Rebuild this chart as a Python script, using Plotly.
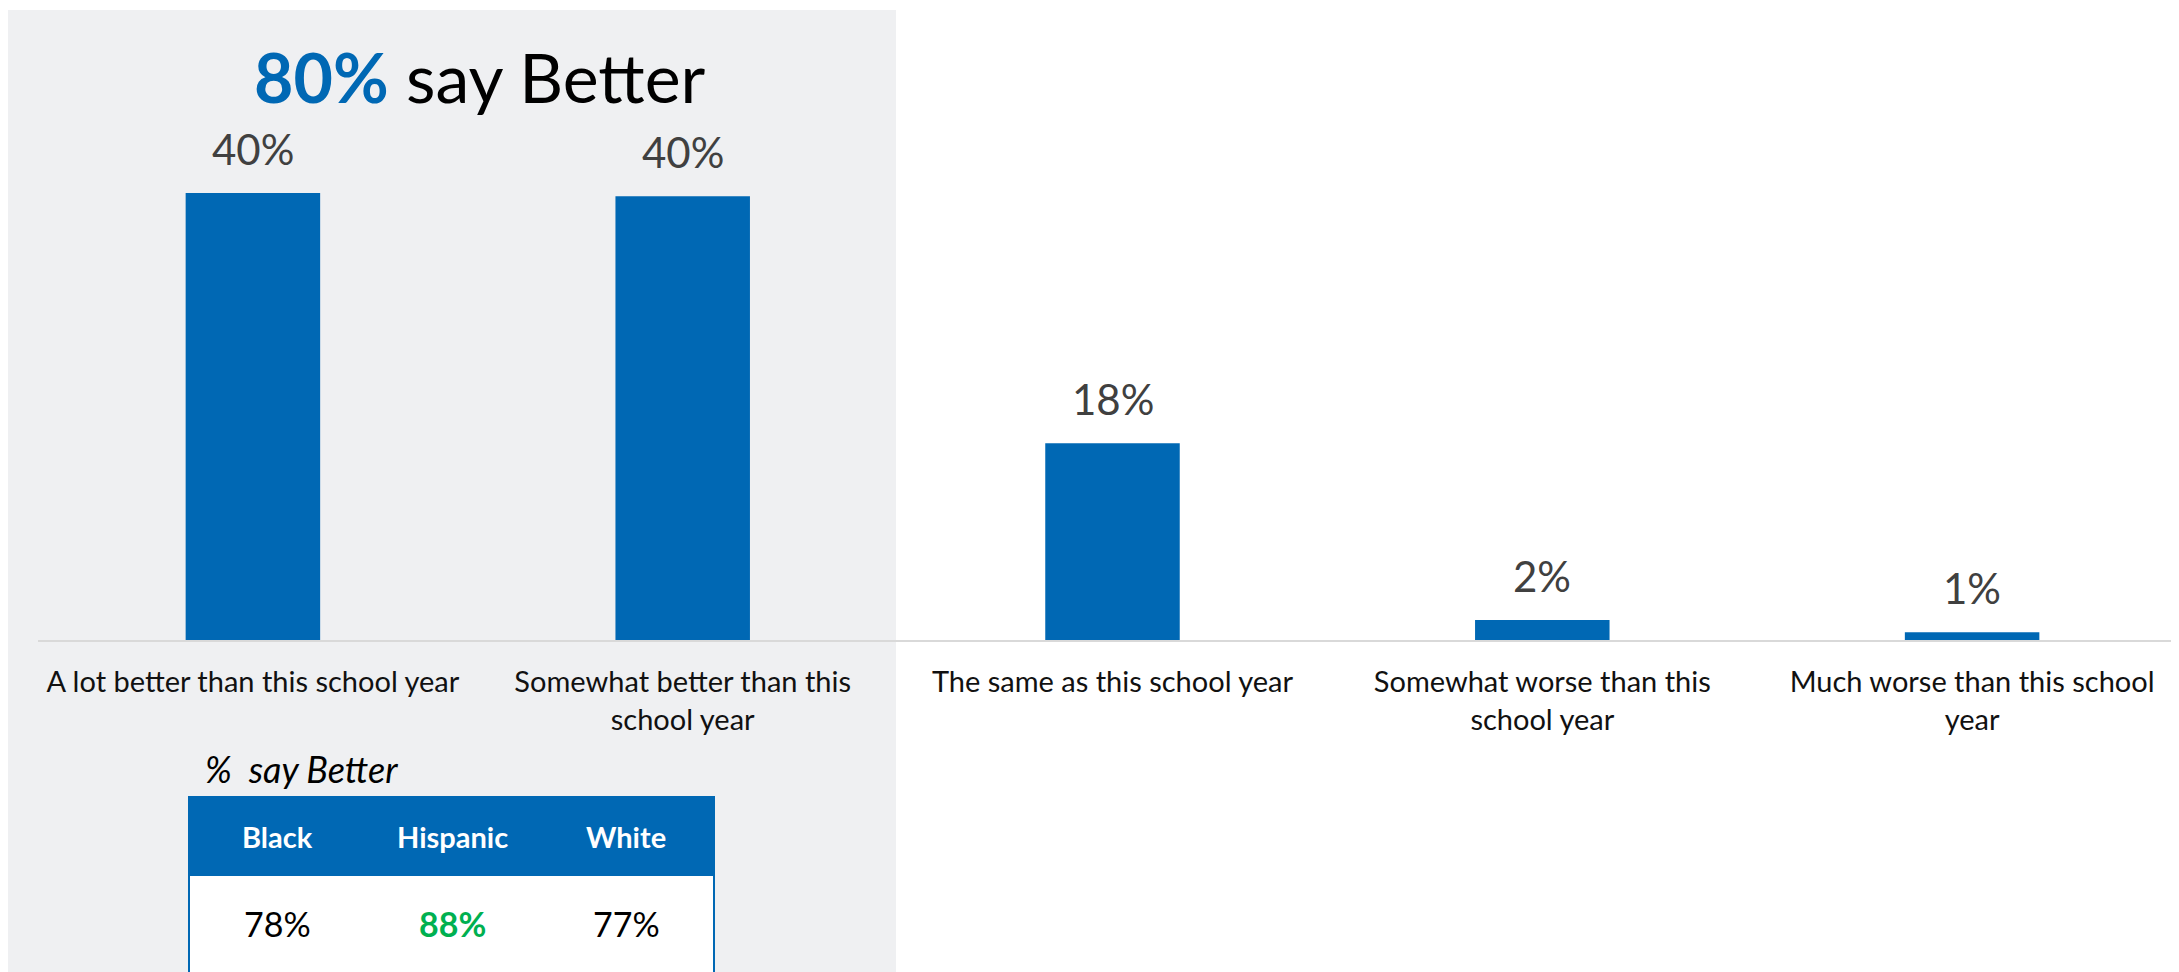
import plotly.graph_objects as go

# ---- data ----
categories = [
    "A lot better than this school year",
    "Somewhat better than this<br>school year",
    "The same as this school year",
    "Somewhat worse than this<br>school year",
    "Much worse than this school<br>year",
]
values = [40.0, 39.7, 17.6, 1.8, 0.7]

groups = ["Black", "Hispanic", "White"]
group_better = [78, 88, 77]
highlight_group = "Hispanic"

title_pct = "80%"
title_rest = "say Better"
table_caption = "%  say Better"

# ---- style ----
W, H = 2179, 972
OFF = 8  # page body margin
BLUE = "#0068B4"
GRAY_PANEL = "#EFF0F2"
GREEN = "#00B050"
FONT = "Lato"

def X(px):
    return (px - OFF) / W

def Y(py):
    return 1 - (py - OFF) / H

baseline_px = 640
px_per_unit = 11.175

fig = go.Figure()
fig.add_trace(go.Bar(
    x=categories, y=values,
    marker=dict(color=BLUE, line=dict(width=0)),
    hoverinfo="skip",
))

annotations = []
# data labels
for c, v in zip(categories, values):
    annotations.append(dict(
        x=c, y=v, xref="x", yref="y", text=f"{round(v):.0f}%",
        showarrow=False, yanchor="bottom", yshift=17,
        font=dict(family=FONT, size=42, color="#404040"),
    ))

# title
annotations.append(dict(
    x=X(480), y=Y(76), xref="paper", yref="paper",
    text=f"<b><span style='color:{BLUE}'>{title_pct}</span></b> {title_rest}",
    showarrow=False, xanchor="center", yanchor="middle",
    font=dict(family=FONT, size=68, color="#000000"),
))

# table caption
annotations.append(dict(
    x=X(203), y=Y(769), xref="paper", yref="paper",
    text=f"<i>{table_caption}</i>", showarrow=False,
    xanchor="left", yanchor="middle",
    font=dict(family=FONT, size=36, color="#000000"),
))

col_centers = [277, 452, 626]
for g, v, cx in zip(groups, group_better, col_centers):
    annotations.append(dict(
        x=X(cx), y=Y(836), xref="paper", yref="paper",
        text=f"<b>{g}</b>", showarrow=False,
        xanchor="center", yanchor="middle",
        font=dict(family=FONT, size=29, color="#FFFFFF"),
    ))
    is_hi = (g == highlight_group)
    annotations.append(dict(
        x=X(cx), y=Y(923), xref="paper", yref="paper",
        text=(f"<b>{v}%</b>" if is_hi else f"{v}%"), showarrow=False,
        xanchor="center", yanchor="middle",
        font=dict(family=FONT, size=34, color=(GREEN if is_hi else "#000000")),
    ))

shapes = [
    dict(type="rect", xref="paper", yref="paper", layer="below",
         x0=X(6), x1=X(896), y0=Y(1000), y1=Y(10),
         fillcolor=GRAY_PANEL, line=dict(width=0)),
    dict(type="rect", xref="paper", yref="paper", layer="above",
         x0=X(189), x1=X(714), y0=Y(1010), y1=Y(875),
         fillcolor="#FFFFFF", line=dict(color=BLUE, width=2)),
    dict(type="rect", xref="paper", yref="paper", layer="above",
         x0=X(189), x1=X(714), y0=Y(875), y1=Y(797),
         fillcolor=BLUE, line=dict(color=BLUE, width=2)),
]

plot_h = baseline_px - OFF
fig.update_layout(
    width=W, height=H, autosize=False,
    margin=dict(l=0, r=0, t=0, b=0),
    paper_bgcolor="#FFFFFF", plot_bgcolor="rgba(0,0,0,0)",
    showlegend=False, template="none",
    bargap=1 - 134 / 428.2,
    xaxis=dict(
        domain=[X(38), 1], type="category", automargin=False,
        showline=True, linecolor="#D9D9D9", linewidth=2,
        showgrid=False, zeroline=False, ticks="",
        ticklabelstandoff=15,
        tickfont=dict(family=FONT, size=29, color="#111111"),
    ),
    yaxis=dict(
        domain=[1 - plot_h / H, 1], range=[0, plot_h / px_per_unit],
        visible=False, showgrid=False, zeroline=False, automargin=False,
    ),
    shapes=shapes,
    annotations=annotations,
)

fig.write_html("out.html")
